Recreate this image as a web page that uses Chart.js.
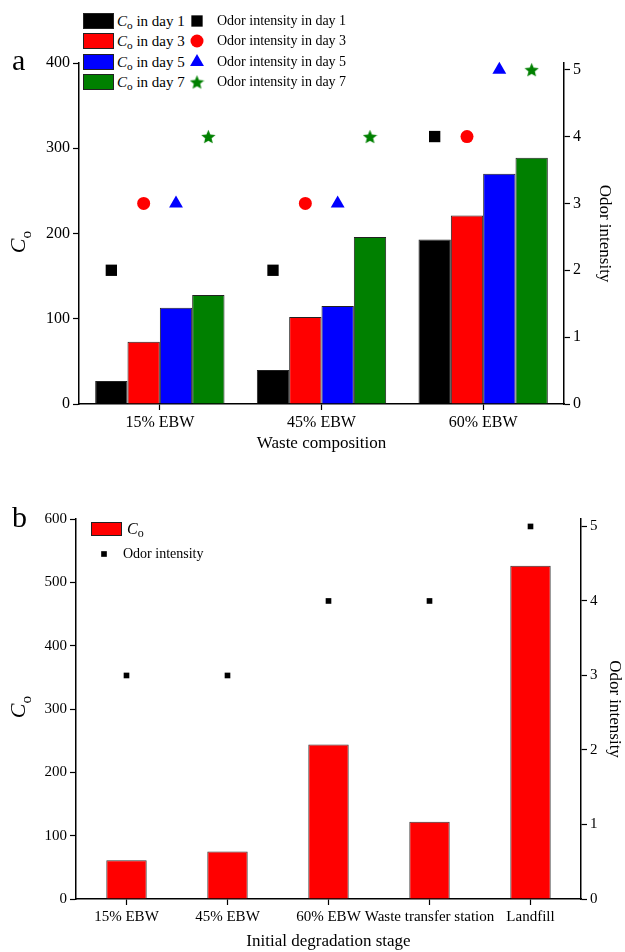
<!DOCTYPE html>
<html>
<head>
<meta charset="utf-8">
<script src="https://cdn.jsdelivr.net/npm/chart.js@4.4.1/dist/chart.umd.min.js"></script>
<style>
  body { margin: 0; background: #fff; width: 625px; height: 952px; overflow: hidden; position: relative;
         font-family: "Liberation Serif", "Times New Roman", serif; color: #000; }
  canvas { position: absolute; left: 0; }
  #chartA, #pointsA { top: 0; }
  #chartB { top: 454px; }
  .abs { position: absolute; white-space: nowrap; }
  .panel { font-size: 30px; line-height: 30px; }
  .ytitle { font-size: 22px; transform: translate(-50%, -50%) rotate(-90deg); }
  .ytitle sub { font-size: 0.7em; }
  .leg sub { font-size: 0.75em; line-height: 0; vertical-align: -0.25em; }
  .legbg { background: #fff; }
  .leg { height: 20px; line-height: 20px; display: flex; align-items: center; }
  .leg canvas { position: static; display: block; }
  .swatch { display: block; box-sizing: border-box; border: 1px solid #222; }
</style>
</head>
<body>
<canvas id="chartA" width="625" height="454"></canvas>
<canvas id="pointsA" width="625" height="454"></canvas>
<canvas id="chartB" width="625" height="498"></canvas>

<div class="abs panel" style="left:12px; top:45px;">a</div>
<div class="abs panel" style="left:12px; top:502px;">b</div>
<div class="abs ytitle" style="left:20px; top:242px;"><i>C</i><sub>o</sub></div>
<div class="abs ytitle" style="left:20px; top:707px;"><i>C</i><sub>o</sub></div>

<div id="legendA" class="abs legbg" style="left:81px; top:8px; width:268px; height:86px;"></div>
<div id="legendB" class="abs" style="left:88px; top:518px; width:130px; height:48px;"></div>

<script>
Chart.defaults.font.family = '"Liberation Serif", "Times New Roman", serif';
Chart.defaults.color = '#000';
Chart.defaults.animation = false;

// --- panel a data: C_o and odor intensity by waste composition ---
const compCats = ['15% EBW', '45% EBW', '60% EBW'];
const dayNames = ['day 1', 'day 3', 'day 5', 'day 7'];
const coDay1 = [27, 40, 193];
const coDay3 = [73, 102, 221];
const coDay5 = [113, 115, 270];
const coDay7 = [128, 196, 289];
const odorDay1 = [2, 2, 4];
const odorDay3 = [3, 3, 4];
const odorDay5 = [3, 3, 5];
const odorDay7 = [4, 4, 5];

// --- panel b data: by initial degradation stage ---
const stageCats = ['15% EBW', '45% EBW', '60% EBW', 'Waste transfer station', 'Landfill'];
const coStage = [61, 75, 244, 122, 526];
const odorStage = [3, 3, 4, 4, 5];

const dayColors = ['#000000', '#ff0000', '#0000ff', '#008000'];
const CAT_PCT = 0.8;

function starImage(color, size) {
  const c = document.createElement('canvas');
  c.width = size; c.height = size;
  const ctx = c.getContext('2d');
  const cx = size / 2, cy = size / 2 + size * 0.05, R = size / 2, r = R * 0.45;
  ctx.beginPath();
  for (let k = 0; k < 10; k++) {
    const rad = k % 2 ? r : R;
    const ang = -Math.PI / 2 + k * Math.PI / 5;
    ctx.lineTo(cx + rad * Math.cos(ang), cy + rad * Math.sin(ang));
  }
  ctx.closePath();
  ctx.fillStyle = color;
  ctx.fill();
  return c;
}

const dayStyles = [
  { pointStyle: 'rect', radius: 8 },
  { pointStyle: 'circle', radius: 6.5 },
  { pointStyle: 'triangle', radius: 8 },
  { pointStyle: starImage('#008000', 15), radius: 7 }
];

function yAxis(pos, max, step, width, size) {
  return {
    position: pos, min: 0, max: max,
    afterFit: s => { s.width = width; },
    ticks: { stepSize: step, includeBounds: false, font: { size: size }, padding: 3, color: '#000' },
    grid: { drawOnChartArea: false, tickLength: 6, tickColor: '#000', tickWidth: 1.2 },
    border: { color: '#000', width: 1.5 }
  };
}

function xAxis(title, height, size) {
  return {
    offset: true,
    afterFit: s => { s.height = height; },
    ticks: { font: { size: size }, padding: 3, color: '#000', maxRotation: 0, autoSkip: false },
    grid: { offset: false, drawOnChartArea: false, tickLength: 6, tickColor: '#000', tickWidth: 1.2 },
    border: { color: '#000', width: 1.5 },
    title: { display: true, text: title, font: { size: 17 }, padding: 0 }
  };
}

// same box sizes as the visible axes, but nothing drawn
function ghostAxis(base) {
  return Object.assign({}, base, {
    ticks: Object.assign({}, base.ticks, { display: false }),
    grid: { display: false },
    border: { display: false },
    title: { display: false }
  });
}

// slot of bar j inside category i, on the overlay's linear axis
function slotX(i, j, n) { return i + (j - (n - 1) / 2) * CAT_PCT / n; }

const layoutA = { padding: { top: 63, left: 0, right: 0, bottom: 0 } };
const yLeftA = yAxis('left', 400, 100, 79, 16);
const yRightA = Object.assign(yAxis('right', 5.1, 1, 61, 16), {
  title: { display: true, text: 'Odor intensity', font: { size: 17 }, padding: { top: 10, bottom: 0 } }
});

// ---------- chart a: bars ----------
const coSets = [coDay1, coDay3, coDay5, coDay7];
const odorSets = [odorDay1, odorDay3, odorDay5, odorDay7];

const chartA = new Chart(document.getElementById('chartA'), {
  type: 'bar',
  data: {
    labels: compCats,
    datasets: coSets.map((vals, j) => ({
      label: 'C_o in ' + dayNames[j],
      data: vals,
      backgroundColor: dayColors[j],
      borderColor: '#222',
      borderWidth: 1,
      categoryPercentage: CAT_PCT,
      barPercentage: 1,
      yAxisID: 'y'
    }))
  },
  options: {
    responsive: false,
    layout: layoutA,
    plugins: { legend: { display: false }, tooltip: { enabled: false } },
    scales: {
      x: xAxis('Waste composition', 50, 16),
      y: yLeftA,
      y2: yRightA
    }
  }
});

// ---------- chart a: odor markers on a transparent overlay ----------
const pointsA = new Chart(document.getElementById('pointsA'), {
  type: 'scatter',
  data: {
    datasets: odorSets.map((vals, j) => ({
      label: 'Odor intensity in ' + dayNames[j],
      data: vals.map((v, i) => ({ x: slotX(i, j, odorSets.length), y: v })),
      backgroundColor: dayColors[j],
      borderColor: dayColors[j],
      pointStyle: dayStyles[j].pointStyle,
      pointRadius: dayStyles[j].radius,
      pointBorderWidth: 0,
      clip: false,
      yAxisID: 'y2'
    }))
  },
  options: {
    responsive: false,
    layout: layoutA,
    plugins: { legend: { display: false }, tooltip: { enabled: false } },
    scales: {
      x: ghostAxis({ type: 'linear', min: -0.5, max: compCats.length - 0.5, afterFit: s => { s.height = 50; }, ticks: {} }),
      y: ghostAxis(yLeftA),
      y2: ghostAxis(yRightA)
    }
  }
});

// ---------- chart b ----------
const chartB = new Chart(document.getElementById('chartB'), {
  type: 'bar',
  data: {
    labels: stageCats,
    datasets: [
      {
        type: 'bar', label: 'C_o', data: coStage,
        backgroundColor: '#ff0000', borderColor: '#333', borderWidth: 1,
        categoryPercentage: 1, barPercentage: 0.4,
        yAxisID: 'y'
      },
      {
        type: 'line', label: 'Odor intensity', data: odorStage,
        showLine: false, backgroundColor: '#000', borderColor: '#000',
        pointStyle: 'rect', pointRadius: 4, pointBorderWidth: 0,
        clip: false,
        yAxisID: 'y2'
      }
    ]
  },
  options: {
    responsive: false,
    layout: { padding: { top: 65, left: 0, right: 0, bottom: 0 } },
    plugins: { legend: { display: false }, tooltip: { enabled: false } },
    scales: {
      x: xAxis('Initial degradation stage', 53, 15),
      y: yAxis('left', 600, 100, 76, 15),
      y2: Object.assign(yAxis('right', 5.1, 1, 44, 15), {
        title: { display: true, text: 'Odor intensity', font: { size: 17 }, padding: { top: 0, bottom: 0 } }
      })
    }
  }
});

// ---------- html legends built from the datasets ----------
function labelHtml(text) {
  return text.replace('C_o', '<i>C</i><sub>o</sub>');
}

function markerCanvas(ds, w, h) {
  const c = document.createElement('canvas');
  c.width = w; c.height = h;
  const ctx = c.getContext('2d');
  ctx.fillStyle = ds.backgroundColor;
  ctx.strokeStyle = ds.borderColor;
  Chart.helpers.drawPoint(ctx, { pointStyle: ds.pointStyle, radius: ds.pointRadius, rotation: 0, borderWidth: 0 }, w / 2, h / 2);
  return c;
}

function addRow(box, top, left, swatchEl, swW, html, gap, size) {
  const row = document.createElement('div');
  row.className = 'abs leg';
  row.style.top = top + 'px';
  row.style.left = left + 'px';
  row.style.fontSize = size + 'px';
  const sw = document.createElement('span');
  sw.style.display = 'flex';
  sw.style.width = swW + 'px';
  sw.style.justifyContent = 'center';
  sw.appendChild(swatchEl);
  const tx = document.createElement('span');
  tx.style.marginLeft = gap + 'px';
  tx.innerHTML = html;
  row.appendChild(sw);
  row.appendChild(tx);
  box.appendChild(row);
}

function barSwatch(ds, w, h) {
  const s = document.createElement('span');
  s.className = 'swatch';
  s.style.width = w + 'px';
  s.style.height = h + 'px';
  s.style.background = ds.backgroundColor;
  return s;
}

const legA = document.getElementById('legendA');
const rowTopsA = [3, 23, 44, 64];
chartA.data.datasets.forEach((ds, j) => {
  addRow(legA, rowTopsA[j], 2, barSwatch(ds, 31, 16), 31, labelHtml(ds.label), 3, 15);
});
pointsA.data.datasets.forEach((ds, j) => {
  addRow(legA, rowTopsA[j], 106, markerCanvas(ds, 20, 20), 20, labelHtml(ds.label), 10, 14);
});

const legB = document.getElementById('legendB');
chartB.data.datasets.forEach((ds, k) => {
  if (ds.type === 'bar') {
    addRow(legB, 1, 3, barSwatch(ds, 31, 14), 31, labelHtml(ds.label), 5, 16);
  } else {
    addRow(legB, 26, 10, markerCanvas(ds, 12, 12), 12, labelHtml(ds.label), 13, 14);
  }
});
</script>
</body>
</html>
